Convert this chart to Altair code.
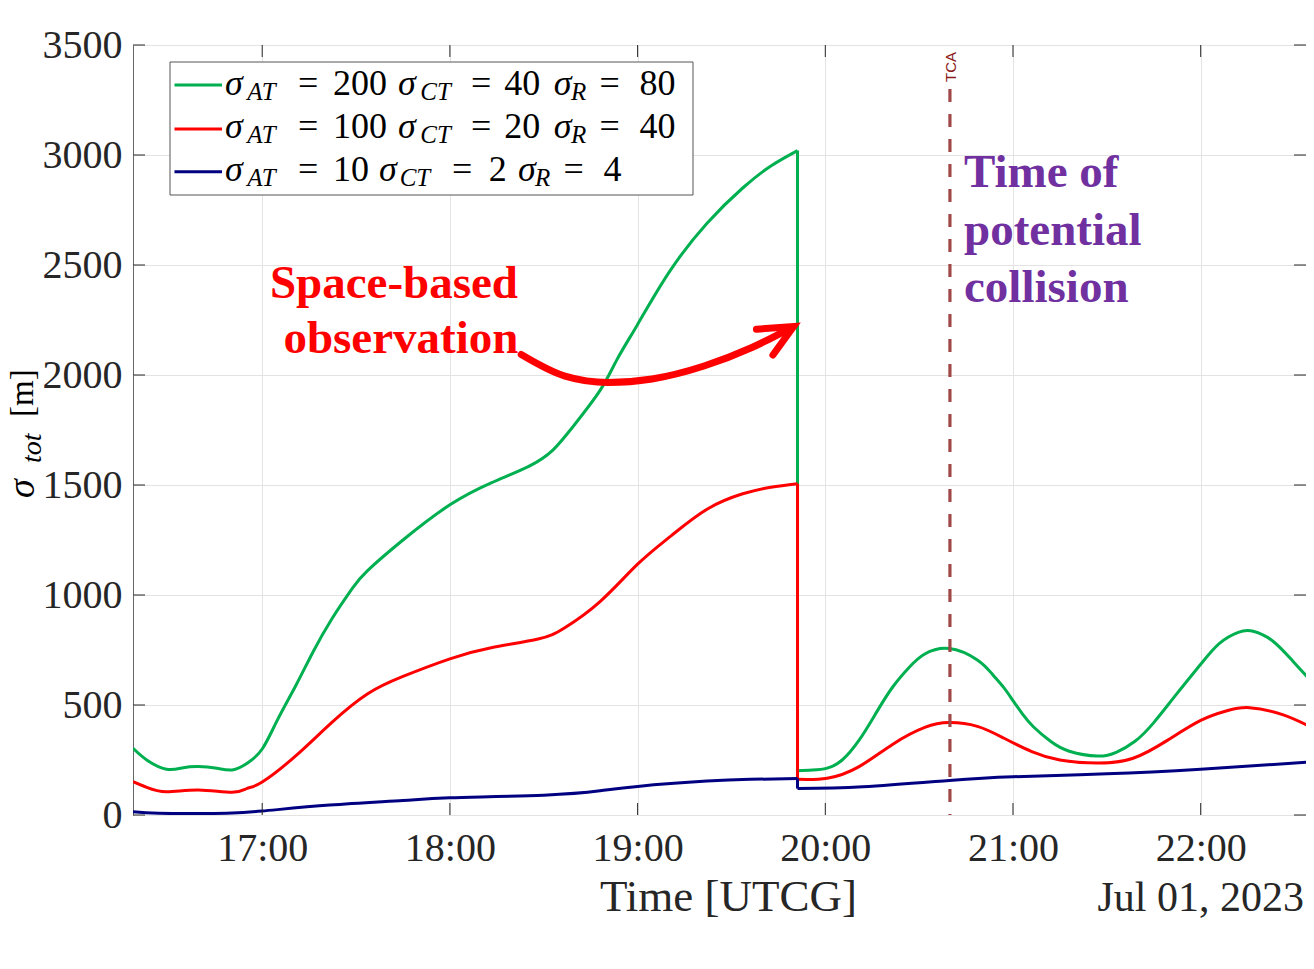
import altair as alt
import pandas as pd

# ---------------- values ----------------
# time in hours (UTCG, Jul 01 2023), sigma_tot in metres
sig_at = ["200", "100", "10"]
sig_ct = ["40", "20", "2"]
sig_r = ["80", "40", "4"]
series_names = ["g", "r", "b"]
colors = ["#00B050", "#FF0000", "#000080"]

t_obs = 19.852   # space-based observation (jump)
t_tca = 20.664   # time of closest approach

green_pre_t = [16.312, 16.385, 16.49, 16.58, 16.66, 16.75, 16.84, 16.92, 17.0, 17.08, 17.18, 17.27,
               17.37, 17.48, 17.56, 17.75, 18.0, 18.22, 18.42, 18.55, 18.66, 18.8, 18.89, 19.0,
               19.17, 19.37, 19.56, 19.71, 19.852]
green_pre_v = [303, 250, 208, 215, 220, 214, 205, 235, 300, 430, 590, 740,
               890, 1030, 1110, 1250, 1410, 1510, 1585, 1660, 1770, 1930, 2070, 2230,
               2470, 2690, 2850, 2950, 3020]
green_post_t = [19.852, 19.93, 20.01, 20.09, 20.18, 20.27, 20.36, 20.45, 20.53, 20.66,
                20.81, 20.89, 20.95, 21.0, 21.05, 21.11, 21.2, 21.3, 21.45, 21.55,
                21.65, 21.75, 21.87, 22.0, 22.1, 22.2, 22.28, 22.385, 22.49, 22.6]
green_post_v = [201, 204, 213, 250, 340, 463, 583, 674, 732, 757,
                705, 640, 580, 520, 460, 400, 335, 290, 268, 285,
                335, 420, 548, 685, 780, 830, 835, 790, 700, 598]

red_pre_t = [16.312, 16.385, 16.49, 16.66, 16.84, 16.92, 17.0, 17.18, 17.37, 17.56, 17.75,
             18.0, 18.22, 18.47, 18.61, 18.8, 19.0, 19.18, 19.37, 19.56, 19.71, 19.852]
red_pre_v = [152, 126, 106, 114, 103, 121, 150, 270, 420, 550, 630,
             710, 760, 800, 850, 970, 1140, 1270, 1390, 1460, 1490, 1506]
red_post_t = [19.852, 20.01, 20.18, 20.36, 20.53, 20.66, 20.81, 20.95, 21.1, 21.25,
              21.45, 21.64, 21.82, 22.0, 22.14, 22.26, 22.44, 22.6]
red_post_v = [162, 167, 220, 322, 398, 420, 403, 350, 288, 250,
              236, 258, 338, 430, 474, 488, 455, 394]

navy_pre_t = [16.312, 16.45, 16.7, 16.84, 17.0, 17.36, 17.75, 18.0, 18.5, 18.8, 19.0,
              19.37, 19.6, 19.852]
navy_pre_v = [15, 8, 7, 9, 18, 45, 66, 78, 90, 110, 130, 154, 162, 166]
navy_post_t = [19.852, 20.2, 20.66, 21.0, 21.5, 22.0, 22.6]
navy_post_v = [120, 128, 157, 174, 187, 208, 242]

tick_x = [17, 18, 19, 20, 21, 22]
tick_y = [0, 500, 1000, 1500, 2000, 2500, 3000, 3500]

# annotation arrow (curved) and its head, in data units
arrow_t = [18.380, 18.613, 18.842, 19.077, 19.354, 19.609, 19.825]
arrow_v = [2093, 1995, 1966, 1982, 2041, 2125, 2218]
head_t = [19.633, 19.831, 19.721]
head_v = [2208, 2220, 2091]

# ---------------- layout / style ----------------
W, H = 1173, 770
FONT = "Liberation Serif"
AX = "#262626"
GRID = "#e3e3e3"
xs = alt.Scale(domain=[16.3117, 22.561], nice=False, zero=False)
ys = alt.Scale(domain=[0, 3500], nice=False, zero=False)

AXIS_X = alt.Axis(
    values=tick_x, labelExpr="datum.value + ':00'", title=None, ticks=False, domain=False,
    grid=True, gridColor=GRID, gridWidth=1, labelFont=FONT, labelFontSize=40,
    labelColor=AX, labelPadding=13, labelFlush=False, labelOverlap=False)
AXIS_Y = alt.Axis(
    values=tick_y, format="d", title=None, ticks=False, domain=False,
    grid=True, gridColor=GRID, gridWidth=1, labelFont=FONT, labelFontSize=40,
    labelColor=AX, labelPadding=11, labelFlush=False, labelOverlap=False)


def X(f="t"):
    return alt.X(f"{f}:Q", scale=xs, axis=AXIS_X)


def Y(f="v"):
    return alt.Y(f"{f}:Q", scale=ys, axis=AXIS_Y)


def PX(f="px"):
    return alt.X(f"{f}:Q", scale=None, axis=None)


def PY(f="py"):
    return alt.Y(f"{f}:Q", scale=None, axis=None)


CURVE = "natural"


def series_layer(pre_t, pre_v, post_t, post_v, color):
    df = pd.DataFrame({
        "t": pre_t + post_t,
        "v": pre_v + post_v,
        "seg": ["a"] * len(pre_t) + ["b"] * len(post_t),
    })
    line = alt.Chart(df).mark_line(color=color, strokeWidth=3, interpolate=CURVE, clip=True).encode(
        x=X(), y=Y(), detail="seg:N")
    drop = alt.Chart(pd.DataFrame({"t": [t_obs], "v": [pre_v[-1]], "v2": [post_v[0]]})).mark_rule(
        color=color, strokeWidth=3).encode(x=X(), y=Y(), y2="v2:Q")
    return line + drop


green = series_layer(green_pre_t, green_pre_v, green_post_t, green_post_v, colors[0])
red = series_layer(red_pre_t, red_pre_v, red_post_t, red_post_v, colors[1])
navy = series_layer(navy_pre_t, navy_pre_v, navy_post_t, navy_post_v, colors[2])

# TCA line and label
tca_df = pd.DataFrame({"t": [t_tca], "s": ["TCA"]})
tca_line = alt.Chart(tca_df).mark_rule(color="#A04848", strokeWidth=3.2, strokeDash=[13, 12]).encode(
    x=X(), y=alt.value(44), y2=alt.value(H))
tca_text = alt.Chart(tca_df).transform_calculate(tl="datum.t + 0.032").mark_text(
    font="Liberation Sans", fontSize=15, color="#8B1A1A", angle=270,
    align="left", baseline="alphabetic").encode(x=X("tl"), y=alt.value(37), text="s:N")

# annotation texts (data coordinates)
ann_red = pd.DataFrame({"t": [17.702, 17.739], "v": [2349, 2099], "s": ["Space-based", "observation"]})
ann_red_txt = alt.Chart(ann_red).mark_text(
    font=FONT, fontSize=47, fontWeight="bold", color="#FF0000", align="center", baseline="alphabetic"
).encode(x=X(), y=Y(), text="s:N")
ann_pur = pd.DataFrame({"t": [20.739, 20.739, 20.739], "v": [2856, 2591, 2333],
                        "s": ["Time of", "potential", "collision"]})
ann_pur_txt = alt.Chart(ann_pur).mark_text(
    font=FONT, fontSize=47, fontWeight="bold", color="#7030A0", align="left", baseline="alphabetic"
).encode(x=X(), y=Y(), text="s:N")

arrow = alt.Chart(pd.DataFrame({"t": arrow_t, "v": arrow_v})).mark_line(
    color="#FF0000", strokeWidth=7, interpolate="monotone", strokeCap="round").encode(x=X(), y=Y())
head = alt.Chart(pd.DataFrame({"t": head_t, "v": head_v, "k": [0, 1, 2]})).mark_line(
    color="#FF0000", strokeWidth=7, strokeCap="round", strokeJoin="miter").encode(
    x=X(), y=Y(), order="k:Q")

# inward ticks (box style)
xt = pd.DataFrame({"t": tick_x})
yt = pd.DataFrame({"v": tick_y})
tk = dict(color=AX, strokeWidth=1)
bottom_ticks = alt.Chart(xt).mark_rule(**tk).encode(x=X(), y=alt.value(H - 12), y2=alt.value(H))
top_ticks = alt.Chart(xt).mark_rule(**tk).encode(x=X(), y=alt.value(0), y2=alt.value(12))
left_ticks = alt.Chart(yt).mark_rule(**tk).encode(y=Y(), x=alt.value(0), x2=alt.value(12))
right_ticks = alt.Chart(yt).mark_rule(**tk).encode(y=Y(), x=alt.value(W - 12), x2=alt.value(W))

# legend (custom, to get subscripts)
leg_box = alt.Chart(pd.DataFrame({"a": [0]})).mark_rect(fill="white", stroke="#555555", strokeWidth=1).encode(
    x=alt.value(37), x2=alt.value(560), y=alt.value(17), y2=alt.value(150))
row_y = [40, 84, 126.7]
leg_lines = alt.Chart(pd.DataFrame({"name": series_names, "py": row_y})).mark_rule(strokeWidth=3).encode(
    x=alt.value(41.5), x2=alt.value(89), y=PY(),
    color=alt.Color("name:N", scale=alt.Scale(domain=series_names, range=colors), legend=None))

base_y = [49.5, 92.8, 136.0]
pos_wide = [92, 114.3, 165, 200, 265, 287.3, 338, 371.2, 420.8, 438, 466.5, 506.5]
pos_narrow = [92, 114.3, 165, 200, 246, 266.7, 319, 355.8, 384.9, 402, 430.5, 470.5]
rows = []
for r in range(3):
    pos = pos_wide if r < 2 else pos_narrow
    parts = [("σ", "sig"), ("AT", "sub"), ("=", "main"), (sig_at[r], "main"),
             ("σ", "sig"), ("CT", "sub"), ("=", "main"), (sig_ct[r], "main"),
             ("σ", "sig"), ("R", "sub"), ("=", "main"), (sig_r[r], "main")]
    for (s, kind), px in zip(parts, pos):
        rows.append({"s": s, "kind": kind, "px": px, "py": base_y[r] + (5 if kind == "sub" else 0)})
leg_df = pd.DataFrame(rows)


def txt_layer(df, kind, size, style, angle=0):
    return alt.Chart(df).transform_filter(alt.datum.kind == kind).mark_text(
        font=FONT, fontSize=size, fontStyle=style, color="black", align="left",
        baseline="alphabetic", angle=angle).encode(x=PX(), y=PY(), text="s:N")


leg_sig = txt_layer(leg_df, "sig", 36, "italic")
leg_sub = txt_layer(leg_df, "sub", 25, "italic")
leg_main = txt_layer(leg_df, "main", 36, "normal")

# axis titles (custom, for the subscript)
ytitle = pd.DataFrame({"s": ["σ", "tot", "[m]"], "kind": ["sig", "sub", "main"],
                       "px": [-99, -92, -100], "py": [453, 418, 372]})
yt_sig = txt_layer(ytitle, "sig", 38, "italic", 270)
yt_sub = txt_layer(ytitle, "sub", 28, "italic", 270)
yt_main = txt_layer(ytitle, "main", 33, "normal", 270)

xtitle = alt.Chart(pd.DataFrame({"s": ["Time [UTCG]"], "px": [595.5], "py": [866]})).mark_text(
    font=FONT, fontSize=45, color=AX, align="center", baseline="alphabetic").encode(
    x=PX(), y=PY(), text="s:N")
date_txt = alt.Chart(pd.DataFrame({"s": ["Jul 01, 2023"], "px": [1171], "py": [866]})).mark_text(
    font=FONT, fontSize=42, color=AX, align="right", baseline="alphabetic").encode(
    x=PX(), y=PY(), text="s:N")

chart = alt.layer(
    green, red, navy, tca_line, tca_text, ann_red_txt, ann_pur_txt, arrow, head,
    bottom_ticks, top_ticks, left_ticks, right_ticks,
    leg_box, leg_lines, leg_sig, leg_sub, leg_main,
    yt_sig, yt_sub, yt_main, xtitle, date_txt,
).properties(
    width=W, height=H,
    autosize=alt.AutoSizeParams(type="none"),
    padding={"left": 125, "top": 37, "right": 0, "bottom": 110},
    background="white",
).configure_view(stroke="#666666", strokeWidth=1)

chart.save("out.html", embed_options={"renderer": "svg", "actions": False})
